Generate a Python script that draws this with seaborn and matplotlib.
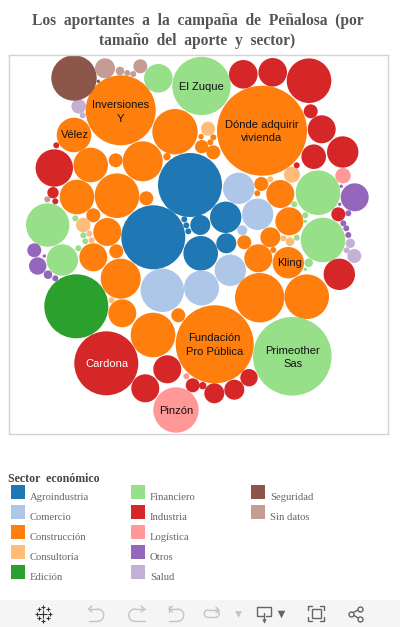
import numpy as np
import pandas as pd
import seaborn as sns
import matplotlib.pyplot as plt
from matplotlib.patches import Rectangle

# Sectores y colores
sectores = ["Agroindustria", "Comercio", "Construcción", "Consultoría", "Edición",
            "Financiero", "Industria", "Logística", "Otros", "Salud", "Seguridad", "Sin datos"]
colores = ["#1f77b4", "#aec7e8", "#ff7f0e", "#ffbb78", "#2ca02c", "#98df8a",
           "#d62728", "#ff9896", "#9467bd", "#c5b0d5", "#8c564b", "#c49c94"]

# Burbujas por sector: x, y, radio
agro_x = [190, 153.3, 225.7, 200.3, 226.3, 200.7, 184.3, 186.3, 188.3]
agro_y = [185, 237.3, 217.3, 225, 243.3, 253.3, 219.3, 225.3, 231.3]
agro_r = [32, 32, 15.7, 10, 10, 17.3, 3, 3, 3]

comercio_x = [238.7, 257.7, 242.3, 230.3, 162.3, 201.5]
comercio_y = [188.3, 214.3, 230.3, 270.3, 290.3, 288]
comercio_r = [15.7, 15.7, 5, 15.7, 21.7, 17.5]

constr_x = [262, 120.7, 74, 175, 90.7, 115.7, 142.7, 167, 77, 117, 146.3, 93.3, 107.3,
            201, 213.3, 210.3, 201.7, 213.3, 261.3, 257.3, 280.3, 289.3, 244.3, 270.3,
            93.3, 116.3, 120.7, 122.3, 178.3, 153, 214.7, 258.3, 288.3, 273.3, 259.7, 306.7]
constr_y = [130.7, 110.3, 135, 131.7, 165, 160.3, 161.3, 156.7, 197, 195.7, 198.3, 215.3, 232,
            136.7, 137.3, 142.3, 146.7, 152.3, 184, 193.3, 194, 221.3, 242.3, 237.3,
            257.3, 251.3, 278.7, 313.3, 315.3, 335, 344.3, 258.3, 262.7, 250, 297.7, 296.7]
constr_r = [45, 35, 17.3, 22.7, 17.3, 7, 20, 3.7, 17.3, 22.3, 7, 7, 14,
            2.7, 3, 3, 6.7, 7, 7, 3, 14, 14, 7, 10,
            14, 7, 20, 14, 7, 22.3, 39, 14, 15.7, 3, 24.7, 22.3]

consult_x = [208, 292, 270.3, 83.3, 89.3, 91.7, 283.3, 290, 111.7]
consult_y = [128.7, 174.7, 179.3, 225, 233.7, 240.3, 238.3, 241.7, 300.3]
consult_r = [7, 8, 3, 7.3, 3, 3, 3, 4.3, 3]

edicion_x = [76.3]
edicion_y = [306.3]
edicion_r = [32]

finan_x = [201.5, 158.3, 47.7, 62.3, 318, 323, 292.3, 75.3, 83.3, 85.3, 78.3, 294.3, 305.3, 305.3, 296.7, 308.7, 305.3]
finan_y = [86, 78.3, 225, 260, 192.7, 240, 356.3, 218.3, 235.3, 241.3, 248.3, 204.3, 215.3, 221.3, 237.7, 262.7, 269.3]
finan_r = [29.2, 14.3, 21.7, 15.7, 22.3, 22.3, 39.3, 3, 3, 3, 3, 3, 3, 1.7, 3, 4.3, 1.7]

indus_x = [243.3, 272.7, 309, 310.7, 321.7, 313.7, 342.7, 296.7, 338.3, 339.3, 54.3, 56.3, 53, 55.3,
           106.3, 167.3, 145.3, 192.7, 249, 234.3, 214.3, 202.7]
indus_y = [74.3, 72.3, 80.7, 111.3, 129.3, 156.7, 152, 165.3, 214.3, 274.3, 168, 145.3, 192.7, 201.3,
           363.3, 369.3, 388.3, 385.3, 377.7, 389.7, 393.3, 385.7]
indus_r = [14.3, 14.3, 22.3, 7, 14, 12.3, 15.7, 3, 7, 15.7, 18.7, 3, 5.7, 3,
           32, 14, 14, 7, 8.7, 10, 10, 3.7]

logis_x = [343, 176, 186.3]
logis_y = [175.7, 410, 376.3]
logis_r = [7.7, 22.7, 3]

otros_x = [354.7, 341.3, 339.7, 348.3, 343.3, 346.3, 348.3, 34.3, 37.7, 44.3, 48, 55.3]
otros_y = [197.3, 186.3, 204.3, 213.3, 223.3, 228.3, 235, 250.3, 266, 256, 274.7, 278.3]
otros_r = [14, 1.7, 1.7, 3, 3, 3, 3, 7, 8.7, 1.7, 4.3, 3]

salud_x = [78.7, 82.7, 350.3, 346.7, 354.3]
salud_y = [106.3, 115.3, 243.3, 250.3, 256]
salud_r = [7.3, 3, 4.7, 3, 7]

segur_x = [74, 98.3]
segur_y = [78, 81.3]
segur_r = [22.7, 1.7]

sindatos_x = [105, 120, 127.3, 133.3, 140.3, 47.3]
sindatos_y = [68.3, 71, 73, 74, 66.3, 199.3]
sindatos_r = [10, 4.3, 3, 3, 7, 3]

grupos = [(agro_x, agro_y, agro_r), (comercio_x, comercio_y, comercio_r), (constr_x, constr_y, constr_r),
          (consult_x, consult_y, consult_r), (edicion_x, edicion_y, edicion_r), (finan_x, finan_y, finan_r),
          (indus_x, indus_y, indus_r), (logis_x, logis_y, logis_r), (otros_x, otros_y, otros_r),
          (salud_x, salud_y, salud_r), (segur_x, segur_y, segur_r), (sindatos_x, sindatos_y, sindatos_r)]

# Nombres que aparecen dentro de las burbujas
nombres = ["Inversiones\nY", "El Zuque", "Vélez", "Dónde adquirir\nvivienda", "Kling",
           "Fundación\nPro Pública", "Primeother\nSas", "Cardona", "Pinzón"]
nombres_x = [120.7, 201.5, 74.5, 262, 290, 214.7, 293, 106.5, 176]
nombres_y = [112, 87, 135.5, 131.5, 263, 345, 357.5, 364, 410.5]

filas = []
for nombre, (xs, ys, rs) in zip(sectores, grupos):
    for a, b, c in zip(xs, ys, rs):
        filas.append({"x": a, "y": b, "radio": c, "sector": nombre})
df = pd.DataFrame(filas)
df["area"] = df["radio"] ** 2

ANCHO, ALTO = 400, 627
fig = plt.figure(figsize=(ANCHO / 100, ALTO / 100), dpi=100)
sns.set_style("white")
fig.patch.set_facecolor("white")

# Capa de fondo en pixeles para leyenda y barra
fondo = fig.add_axes([0, 0, 1, 1])
fondo.set_xlim(0, ANCHO)
fondo.set_ylim(ALTO, 0)
fondo.axis("off")

# Marco del grafico
izq, der, arr, aba = 8.5, 387.5, 54.5, 433.5
ax = fig.add_axes([izq / ANCHO, 1 - aba / ALTO, (der - izq) / ANCHO, (aba - arr) / ALTO])
ax.patch.set_alpha(0)
rmax = df["radio"].max()
sns.scatterplot(data=df, x="x", y="y", hue="sector", hue_order=sectores, palette=colores,
                size="area", sizes=(0, (1.44 * rmax) ** 2), size_norm=(0, rmax ** 2),
                legend=False, edgecolor="none", linewidth=0, ax=ax)
ax.set_xlim(izq, der)
ax.set_ylim(aba, arr)
ax.set_xticks([])
ax.set_yticks([])
ax.set_xlabel("")
ax.set_ylabel("")
for s in ax.spines.values():
    s.set_color("#d3d3d3")
    s.set_linewidth(1)

for t, a, b in zip(nombres, nombres_x, nombres_y):
    color = "white" if t == "Cardona" else "#111111"
    ax.text(a, b, t, ha="center", va="center", fontsize=8, color=color,
            family="Liberation Sans", linespacing=1.4)

# Titulo
fondo.text(197.5, 21, "Los  aportantes  a  la  campaña  de  Peñalosa  (por", ha="center", va="center",
           family="Liberation Serif", fontweight="bold", fontsize=11.2, color="#555555")
fondo.text(197.5, 41, "tamaño  del  aporte  y  sector)", ha="center", va="center",
           family="Liberation Serif", fontweight="bold", fontsize=11.2, color="#555555")

# Leyenda
fondo.text(8, 478.5, "Sector  económico", ha="left", va="center", family="Liberation Serif",
           fontweight="bold", fontsize=8.6, color="#444444")
for i, (nombre, col) in enumerate(zip(sectores, colores)):
    c, f = i // 5, i % 5
    x0 = 11 + 120 * c
    y0 = 485 + 20 * f
    fondo.add_patch(Rectangle((x0, y0), 14, 14, facecolor=col, edgecolor="none"))
    fondo.text(x0 + 19, y0 + 12, nombre, ha="left", va="center", family="Liberation Serif",
               fontsize=7.7, color="#666666")

# Barra de herramientas
fondo.add_patch(Rectangle((0, 600), ANCHO, 27, facecolor="#f5f5f5", edgecolor="none"))
oscuro, claro, medio = "#333333", "#c4c4c4", "#666666"
# logo
fondo.scatter([43.3], [613.5], marker="+", s=30, color=oscuro, linewidth=0.8)
fondo.scatter([43.3, 43.3, 36.7, 50.3], [606.8, 620.5, 613.5, 613.5], marker="+", s=9, color=oscuro, linewidth=0.8)
fondo.scatter([38.8, 47.8, 38.8, 47.8], [609.2, 609.2, 617.8, 617.8], marker="+", s=9, color=oscuro, linewidth=0.8)
# deshacer / rehacer / revertir
t = np.linspace(-np.pi / 2, np.pi / 2, 30)
for x_recta, x_punta, signo in [(97.5, 88.5, 1), (135, 144.5, -1), (177.5, 169, 1)]:
    fondo.plot(x_recta + signo * 6.2 * np.cos(t), 615.2 + 6.2 * np.sin(t), color=claro, lw=1)
    fondo.plot([x_punta, x_recta], [609, 609], color=claro, lw=1)
    fondo.plot([x_punta, x_recta], [621.4, 621.4], color=claro, lw=1)
    fondo.plot([x_punta + signo * 3.5, x_punta, x_punta + signo * 3.5], [606, 609, 612], color=claro, lw=1)
fondo.plot([168.5, 168.5], [605.7, 611.7], color=claro, lw=1)
# refrescar
t = np.linspace(np.pi / 2, 3 * np.pi / 2, 20)
fondo.plot(208 + 3.7 * np.cos(t), 613.7 + 3.7 * np.sin(t), color=claro, lw=1)
fondo.plot(215.5 - 3.7 * np.cos(t), 613.7 + 3.7 * np.sin(t), color=claro, lw=1)
fondo.plot([208, 218], [610, 610], color=claro, lw=1)
fondo.plot([208, 215.5], [617.4, 617.4], color=claro, lw=1)
fondo.plot([216, 219, 216], [607.3, 610, 612.7], color=claro, lw=1)
fondo.scatter([237.7], [613.8], marker="v", s=24, color=claro, linewidth=0)
# descarga
fondo.plot([262.5, 257.3, 257.3, 271.3, 271.3, 266], [615.7, 615.7, 606.7, 606.7, 615.7, 615.7], color=medio, lw=1)
fondo.plot([264.3, 264.3], [612.5, 620], color=medio, lw=1)
fondo.scatter([264.3], [620.5], marker="v", s=10, color=medio, linewidth=0)
fondo.scatter([280.7], [613.5], marker="v", s=30, color=medio, linewidth=0)
# pantalla completa
fondo.add_patch(Rectangle((311.7, 609.3), 9, 9, fill=False, edgecolor=medio, lw=1))
for x_lado, y_lado, dx, dy in [(308.3, 606, 1, 1), (323.5, 606, -1, 1), (308.3, 621.3, 1, -1), (323.5, 621.3, -1, -1)]:
    fondo.plot([x_lado, x_lado, x_lado + dx * 4], [y_lado + dy * 4, y_lado, y_lado], color=medio, lw=1)
# compartir
fondo.plot([360, 351, 360], [609, 613.7, 619], color=medio, lw=1)
fondo.scatter([360, 351, 360], [609, 613.7, 619], s=13, facecolor="#f5f5f5", edgecolor=medio, linewidth=1, zorder=3)

fig.savefig("out.png", dpi=100)
